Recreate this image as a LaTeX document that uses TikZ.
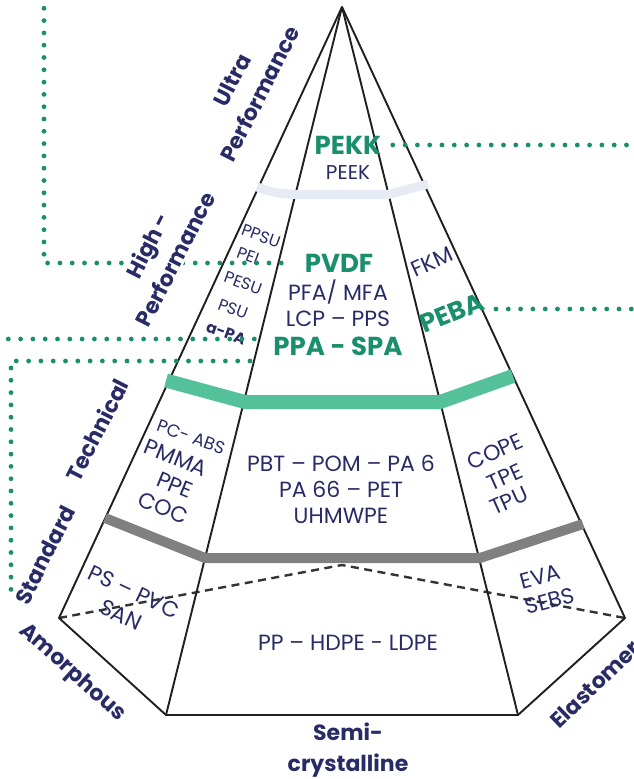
\documentclass[tikz,border=0pt]{standalone}
\usepackage{fontspec}
\setmainfont{Poppins}
\definecolor{navy}{HTML}{292B66}
\definecolor{leaf}{HTML}{1A8F6C}
\definecolor{mint}{HTML}{55C19B}
\definecolor{mist}{HTML}{E7ECF4}
\definecolor{slate}{HTML}{808080}
\begin{document}
\begin{tikzpicture}[x=1pt,y=-1pt,
  edge/.style={line width=1.9pt,black!88,line join=round},
  back/.style={line width=2.4pt,black!80,dash pattern=on 8pt off 5.5pt},
  leader/.style={leaf,line width=4.8pt,line cap=round,dash pattern=on 0pt off 12.3pt},
  grp/.style={navy,font=\fontsize{22}{31}\selectfont\bfseries,align=center},
  mat/.style={navy,font=\fontsize{22}{26}\selectfont,align=center},
  small/.style={navy,font=\fontsize{16.5}{18}\selectfont,align=center},
  hot/.style={leaf,font=\fontsize{26}{28}\selectfont\bfseries}]
  \useasboundingbox (0,0) rectangle (633,779);
  \coordinate (apex) at (342,7);
  \coordinate (L) at (59,618);
  \coordinate (FL) at (166,715);
  \coordinate (FR) at (518,715);
  \coordinate (R) at (625,618);
  \coordinate (B) at (342,565);

  \draw[back] (L) -- (B) -- (R);
  \draw[edge] (apex) -- (L) -- (FL) -- (FR) -- (R) -- (apex);
  \draw[edge] (FL) -- (apex) -- (FR);

  \draw[mist,line width=9pt] (257,187) .. controls (275,193) .. (295,194.5) -- (388,194.5) -- (428,184);
  \draw[mint,line width=14pt] (166,380.5) -- (245,402) -- (440,402) -- (513,376);
  \draw[slate,line width=10pt] (105,518) -- (205,558) -- (480,558) -- (583,524);

  \node[hot] (pekk) at (348,145) {PEKK};
  \node[mat,font=\fontsize{20}{24}\selectfont] (peek) at (348,173) {PEEK};
  \node[hot] (pvdf) at (339,263) {PVDF};
  \node[mat] (pfa) at (338,303) {PFA/ MFA\\LCP – PPS};
  \node[hot] (ppa) at (338,346) {PPA - SPA};
  \node[small,rotate=-20] (ppsu) at (261,236) {PPSU};
  \node[small,rotate=-20] (pei) at (248,256) {PEI};
  \node[small,rotate=-20] (pesu) at (243,283) {PESU};
  \node[small,rotate=-20] (psu) at (233,309) {PSU};
  \node[small,font=\fontsize{15.5}{16}\selectfont\bfseries,rotate=-20] (apa) at (226,333) {a-PA};
  \node[mat,rotate=24] (fkm) at (432,262) {FKM};
  \node[hot,rotate=22] (peba) at (452,313) {PEBA};

  \node[small,font=\fontsize{17.5}{18}\selectfont,rotate=-20] (pcabs) at (191,437) {PC- ABS};
  \node[mat,rotate=-22] (pmma) at (176,458) {PMMA};
  \node[mat,rotate=-22] (ppe) at (175,485) {PPE};
  \node[mat,rotate=-22] (coc) at (163,508) {COC};
  \node[mat] (pbt) at (341,489) {PBT – POM – PA 6\\PA 66 – PET\\UHMWPE};
  \node[mat,rotate=24] (cope) at (495,452) {COPE};
  \node[mat,rotate=24] (tpe) at (505,477) {TPE};
  \node[mat,rotate=24] (tpu) at (509,501) {TPU};

  \node[mat,rotate=-25] (pvc) at (134,592) {PS – PVC};
  \node[mat,rotate=-25] (san) at (121,615) {SAN};
  \node[mat] (pp) at (348,643) {PP – HDPE - LDPE};
  \node[mat,rotate=15] (eva) at (540,577) {EVA};
  \node[mat,rotate=15] (sebs) at (550,601) {SEBS};

  \coordinate (topout) at (44,-4);
  \coordinate (pekkout) at (640,145);
  \coordinate (pebain) at (496,309);
  \coordinate (pebaout) at (640,309);
  \coordinate (ppaout) at (-4,339);
  \coordinate (ppain) at (257,339);
  \coordinate (stdin) at (250,361);
  \coordinate (stdout) at (11,592);
  \draw[leader] (topout) |- ([xshift=-10pt]pvdf.west);
  \draw[leader] ([xshift=8pt]pekk.east) -- (pekkout);
  \draw[leader] (pebain) -- (pebaout);
  \draw[leader] (ppaout) -- (ppain);
  \draw[leader] (stdin) -| (stdout);

  \node[grp,rotate=63] (ultra) at (246,87) {Ultra\\Performance};
  \node[grp,rotate=63,fill=white,inner sep=1pt] (high) at (161,252) {High -\\Performance};
  \node[grp,rotate=63] (tech) at (97,430) {Technical};
  \node[grp,rotate=63] (std) at (45,555) {Standard};
  \node[grp,rotate=-42] (amor) at (72,673) {Amorphous};
  \node[grp] (semi) at (348,750) {Semi-\\crystalline};
  \node[grp,rotate=44,anchor=base west,inner sep=0pt] (elast) at (559,730) {Elastomers};
\end{tikzpicture}
\end{document}
